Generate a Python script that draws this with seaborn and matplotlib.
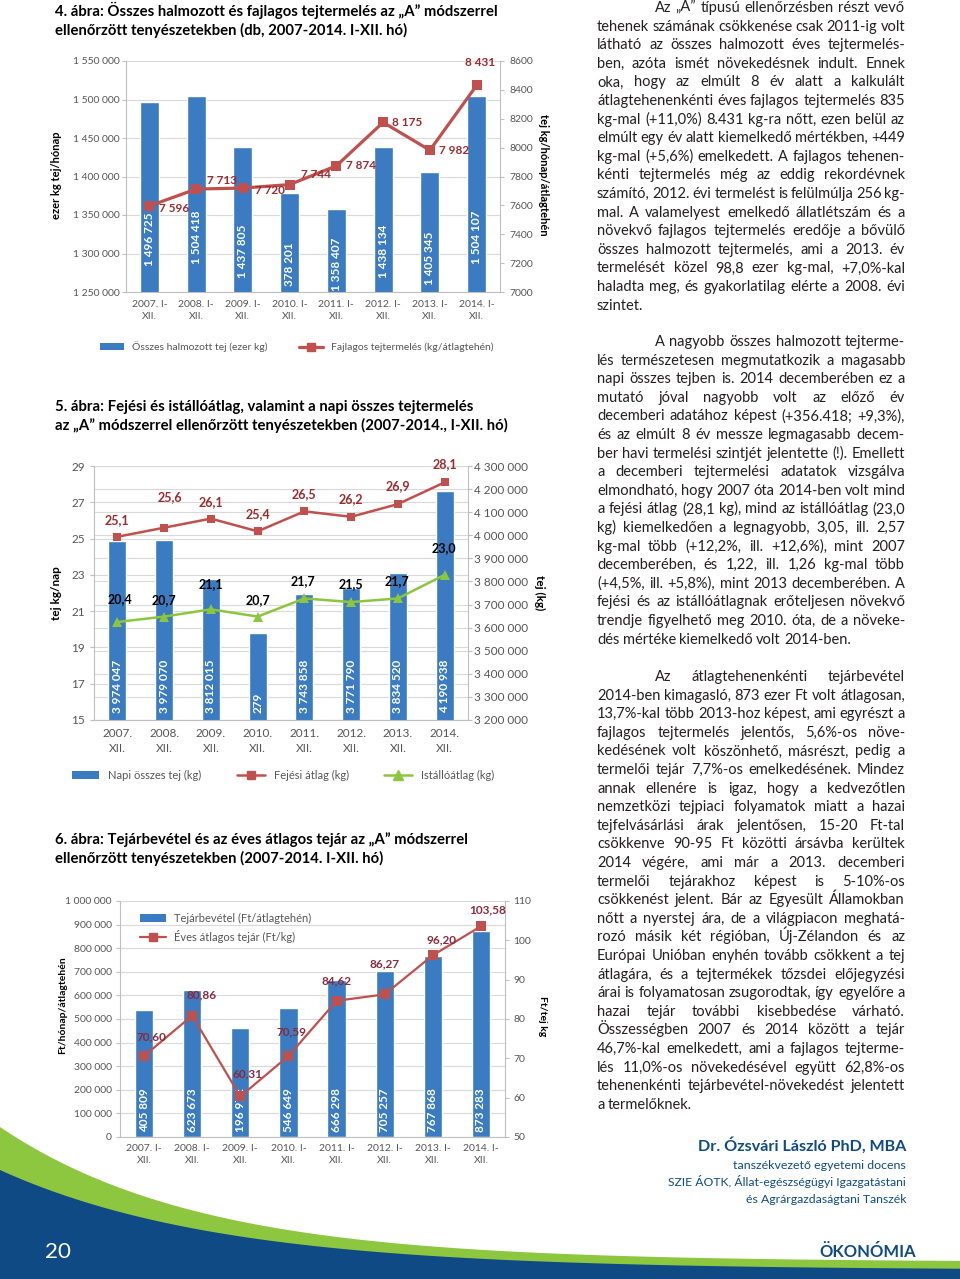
import matplotlib
matplotlib.use("Agg")
import numpy as np
import matplotlib.pyplot as plt
import seaborn as sns
from matplotlib.patches import Patch
from matplotlib.lines import Line2D

# ---- 4. ábra: cumulative and specific milk production ----
periods_a = ["2007. I-\nXII.", "2008. I-\nXII.", "2009. I-\nXII.", "2010. I-\nXII.",
             "2011. I-\nXII.", "2012. I-\nXII.", "2013. I-\nXII.", "2014. I-\nXII."]
total_milk = [1496725, 1504418, 1437805, 1378201, 1358407, 1438134, 1405345, 1504107]
total_milk_text = ["1 496 725", "1 504 418", "1 437 805", "378 201",
                   "1 358 407", "1 438 134", "1 405 345", "1 504 107"]
specific_milk = [7596, 7713, 7720, 7744, 7874, 8175, 7982, 8431]

# ---- 5. ábra: milking / herd average and daily total milk (December) ----
periods_b = ["2007.\nXII.", "2008.\nXII.", "2009.\nXII.", "2010.\nXII.",
             "2011.\nXII.", "2012.\nXII.", "2013.\nXII.", "2014.\nXII."]
daily_milk = [3974047, 3979070, 3812015, 3578279, 3743858, 3771790, 3834520, 4190938]
daily_milk_text = ["3 974 047", "3 979 070", "3 812 015", "279",
                   "3 743 858", "3 771 790", "3 834 520", "4 190 938"]
milking_avg = [25.1, 25.6, 26.1, 25.4, 26.5, 26.2, 26.9, 28.1]
herd_avg = [20.4, 20.7, 21.1, 20.7, 21.7, 21.5, 21.7, 23.0]

# ---- 6. ábra: milk revenue and yearly average milk price ----
revenue = [536415, 623673, 463300, 546649, 666298, 705257, 767868, 873283]
revenue_text = ["405 809", "623 673", "196 972", "546 649",
                "666 298", "705 257", "767 868", "873 283"]
milk_price = [70.60, 80.86, 60.31, 70.59, 84.62, 86.27, 96.20, 103.58]

titles = [
    ["4. ábra: Összes halmozott és fajlagos tejtermelés az \u201eA\u201d módszerrel",
     "ellenőrzött tenyészetekben (db, 2007-2014. I-XII. hó)"],
    ["5. ábra: Fejési és istállóátlag, valamint a napi összes tejtermelés",
     "az \u201eA\u201d módszerrel ellenőrzött tenyészetekben (2007-2014., I-XII. hó)"],
    ["6. ábra: Tejárbevétel és az éves átlagos tejár az \u201eA\u201d módszerrel",
     "ellenőrzött tenyészetekben (2007-2014. I-XII. hó)"],
]

para1 = [
    "Az \u201eA\u201d típusú ellenőrzésben részt vevő",
    "tehenek számának csökkenése csak 2011-ig volt",
    "látható az összes halmozott éves tejtermelés-",
    "ben, azóta ismét növekedésnek indult. Ennek",
    "oka, hogy az elmúlt 8 év alatt a kalkulált",
    "átlagtehenenkénti éves fajlagos tejtermelés 835",
    "kg-mal (+11,0%) 8.431 kg-ra nőtt, ezen belül az",
    "elmúlt egy év alatt kiemelkedő mértékben, +449",
    "kg-mal (+5,6%) emelkedett. A fajlagos tehenen-",
    "kénti tejtermelés még az eddig rekordévnek",
    "számító, 2012. évi termelést is felülmúlja 256 kg-",
    "mal. A valamelyest emelkedő állatlétszám és a",
    "növekvő fajlagos tejtermelés eredője a bővülő",
    "összes halmozott tejtermelés, ami a 2013. év",
    "termelését közel 98,8 ezer kg-mal, +7,0%-kal",
    "haladta meg, és gyakorlatilag elérte a 2008. évi",
    "szintet.",
]
para2 = [
    "A nagyobb összes halmozott tejterme-",
    "lés természetesen megmutatkozik a magasabb",
    "napi összes tejben is. 2014 decemberében ez a",
    "mutató jóval nagyobb volt az előző év",
    "decemberi adatához képest (+356.418; +9,3%),",
    "és az elmúlt 8 év messze legmagasabb decem-",
    "ber havi termelési szintjét jelentette (!). Emellett",
    "a decemberi tejtermelési adatatok vizsgálva",
    "elmondható, hogy 2007 óta 2014-ben volt mind",
    "a fejési átlag (28,1 kg), mind az istállóátlag (23,0",
    "kg) kiemelkedően a legnagyobb, 3,05, ill. 2,57",
    "kg-mal több (+12,2%, ill. +12,6%), mint 2007",
    "decemberében, és 1,22, ill. 1,26 kg-mal több",
    "(+4,5%, ill. +5,8%), mint 2013 decemberében. A",
    "fejési és az istállóátlagnak erőteljesen növekvő",
    "trendje figyelhető meg 2010. óta, de a növeke-",
    "dés mértéke kiemelkedő volt 2014-ben.",
]
para3 = [
    "Az átlagtehenenkénti tejárbevétel",
    "2014-ben kimagasló, 873 ezer Ft volt átlagosan,",
    "13,7%-kal több 2013-hoz képest, ami egyrészt a",
    "fajlagos tejtermelés jelentős, 5,6%-os növe-",
    "kedésének volt köszönhető, másrészt, pedig a",
    "termelői tejár 7,7%-os emelkedésének. Mindez",
    "annak ellenére is igaz, hogy a kedvezőtlen",
    "nemzetközi tejpiaci folyamatok miatt a hazai",
    "tejfelvásárlási árak jelentősen, 15-20 Ft-tal",
    "csökkenve 90-95 Ft közötti ársávba kerültek",
    "2014 végére, ami már a 2013. decemberi",
    "termelői tejárakhoz képest is 5-10%-os",
    "csökkenést jelent. Bár az Egyesült Államokban",
    "nőtt a nyerstej ára, de a világpiacon meghatá-",
    "rozó másik két régióban, Új-Zélandon és az",
    "Európai Unióban enyhén tovább csökkent a tej",
    "átlagára, és a tejtermékek tőzsdei előjegyzési",
    "árai is folyamatosan zsugorodtak, így egyelőre a",
    "hazai tejár további kisebbedése várható.",
    "Összességben 2007 és 2014 között a tejár",
    "46,7%-kal emelkedett, ami a fajlagos tejterme-",
    "lés 11,0%-os növekedésével együtt 62,8%-os",
    "tehenenkénti tejárbevétel-növekedést jelentett",
    "a termelőknek.",
]
author = ["Dr. Ózsvári László PhD, MBA", "tanszékvezető egyetemi docens",
          "SZIE ÁOTK, Állat-egészségügyi Igazgatástani", "és Agrárgazdaságtani Tanszék"]

BLUE = "#3a7bc1"
RED = "#c0504d"
GREEN = "#8cc63f"
LAB_RED = "#9c2b2e"
TICK = "#555555"
AXIS = "#bfbfbf"
GRID = "#d9d9d9"
TXT = "#231f20"
NAVY = "#0f4a85"
SWOOSH = "#8dc63f"

sns.set_style("white")
plt.rcParams["font.family"] = ["Lato", "DejaVu Sans"]

W, H = 960, 1279
fig = plt.figure(figsize=(W / 100, H / 100), dpi=100)
renderer = fig.canvas.get_renderer()


def fx(x):
    return x / W


def fy(y):
    return 1 - y / H


def box(x0, y0, x1, y1):
    return [x0 / W, 1 - y1 / H, (x1 - x0) / W, (y1 - y0) / H]


def spaced(v):
    return f"{v:,.0f}".replace(",", " ")


def comma(v, d):
    return f"{v:.{d}f}".replace(".", ",")


def fit_text(x, y, s, width, ha="left", **kw):
    t = fig.text(fx(x), fy(y), s, ha=ha, va="baseline", fontsize=10, **kw)
    w = t.get_window_extent(renderer).width
    t.set_fontsize(10 * width / w)
    return t


def finish(ax, left, right, fs, lpad, rpad, xpad):
    # ax owns the x axis, left / right carry the two value scales
    for a in {ax, left, right}:
        a.set_facecolor("none")
        for s in a.spines.values():
            s.set_visible(False)
        a.set_xlabel("")
        a.set_ylabel("")
    ax.spines["bottom"].set_visible(True)
    left.spines["left"].set_visible(True)
    right.spines["right"].set_visible(True)
    for s in (ax.spines["bottom"], left.spines["left"], right.spines["right"]):
        s.set_color(AXIS)
        s.set_linewidth(0.8)
    left.tick_params(axis="y", left=True, right=False, labelleft=True, labelright=False,
                     length=3, width=0.8, color=AXIS, labelcolor=TICK, labelsize=fs, pad=lpad)
    right.tick_params(axis="y", left=False, right=True, labelleft=False, labelright=True,
                      length=3, width=0.8, color=AXIS, labelcolor=TICK, labelsize=fs, pad=rpad)
    ax.set_xlim(-0.5, 7.5)
    ax.set_xticks(np.arange(-0.5, 8), minor=True)
    ax.tick_params(axis="x", which="major", length=0, labelsize=fs, labelcolor=TICK, pad=xpad)
    ax.tick_params(axis="x", which="minor", length=4, width=0.8, color=AXIS)
    for t in ax.get_xticklabels():
        t.set_linespacing(1.45)


def point_labels(ax, values, texts, offsets, color, size):
    for i, (v, s, (dx, dy)) in enumerate(zip(values, texts, offsets)):
        ax.annotate(s, (i, v), xytext=(dx, -dy), textcoords="offset pixels",
                    ha="center", va="center", color=color, fontsize=size, fontweight="bold")


def side_label(x, y, s, rot, size):
    fig.text(fx(x), fy(y), s, rotation=rot, ha="center", va="center",
             fontsize=size, fontweight="bold", color="black")


# ---- footer swoosh (behind everything) ----
bg = fig.add_axes([0, 0, 1, 1], zorder=-5)
bg.set_xlim(0, W)
bg.set_ylim(H, 0)
bg.axis("off")
xs = np.linspace(0, W, 400)
bg.fill_between(xs, 1262 - 135 * np.exp(-xs / 200), H, color=SWOOSH, lw=0)
bg.fill_between(xs, 1270 - 100 * np.exp(-xs / 220), H, color=NAVY, lw=0)

# ---- titles ----
t = fit_text(55, 16, titles[0][0], 442, fontweight="bold", color="black")
title_size = t.get_fontsize()
for lines, y in zip(titles, [16, 411, 844]):
    for k, s in enumerate(lines):
        if y == 16 and k == 0:
            continue
        fig.text(fx(55), fy(y + 19 * k), s, ha="left", va="baseline",
                 fontsize=title_size, fontweight="bold", color="black")

# ---- chart 4 ----
ax1 = fig.add_axes(box(126, 61, 500, 292))
sns.barplot(x=periods_a, y=total_milk, ax=ax1, color=BLUE, saturation=1, width=0.41)
lo, hi = 1250000, 1550000
ax1.set_ylim(lo, hi)
ticks = list(range(lo, hi + 1, 50000))
ax1.set_yticks(ticks, [spaced(v) for v in ticks])
ax1.yaxis.grid(True, color=GRID, lw=0.8)
ax1.set_axisbelow(True)
for i, (v, s) in enumerate(zip(total_milk, total_milk_text)):
    yc = max(lo + 0.28 * (min(v, hi) - lo), lo + 0.12 * (hi - lo))
    ax1.text(i, yc, s, rotation=90, ha="center", va="center",
             color="white", fontsize=8.5, fontweight="bold", clip_on=True)
ax1b = ax1.twinx()
sns.lineplot(x=np.arange(len(specific_milk)), y=specific_milk, ax=ax1b, color=RED, lw=2.3,
             marker="s", markersize=7, markeredgewidth=0)
ax1b.set_ylim(7000, 8600)
ax1b.set_yticks(range(7000, 8601, 200))
point_labels(ax1b, specific_milk, [spaced(v) for v in specific_milk],
             [(25, 3), (26, -9), (27, 2), (26, -10), (25, 0), (24, 0), (24, 0), (3, -23)],
             LAB_RED, 8.5)
finish(ax1, ax1, ax1b, 7.5, 1.5, 4, 5.5)
side_label(56, 175, "ezer kg tej/hónap", 90, 8)
side_label(544, 175, "tej kg/hónap/átlagtehén", 270, 8)
fig.legend([Patch(facecolor=BLUE, edgecolor="none"),
            Line2D([], [], color=RED, lw=2.3, marker="s", markersize=6)],
           ["Összes halmozott tej (ezer kg)", "Fajlagos tejtermelés (kg/átlagtehén)"],
           loc="center", bbox_to_anchor=(fx(297), fy(347)), ncol=2, frameon=False,
           fontsize=7.5, handlelength=2.3, columnspacing=3.0, labelcolor=TICK)

# ---- chart 5 ----
ax2 = fig.add_axes(box(94, 466, 468, 720))
sns.barplot(x=periods_b, y=daily_milk, ax=ax2, color=BLUE, saturation=1, width=0.39)
ax2.set_ylim(3200000, 4300000)
ticks = list(range(3200000, 4300001, 100000))
ax2.set_yticks(ticks, [spaced(v) for v in ticks])
ax2.yaxis.grid(True, color=GRID, lw=0.8)
ax2.set_axisbelow(True)
for lv in range(15, 30, 2):
    ax2.axhline(3200000 + (lv - 15) / 14 * 1100000, color=GRID, lw=0.8, zorder=0.5)
for i, s in enumerate(daily_milk_text):
    ax2.annotate(s, (i, 3200000), xytext=(0, 7), textcoords="offset pixels", rotation=90,
                 ha="center", va="bottom", color="white", fontsize=8.5, fontweight="bold")
ax2b = ax2.twinx()
sns.lineplot(x=np.arange(len(milking_avg)), y=milking_avg, ax=ax2b, color=RED, lw=1.8,
             marker="s", markersize=6, markeredgewidth=0)
sns.lineplot(x=np.arange(len(herd_avg)), y=herd_avg, ax=ax2b, color=GREEN, lw=1.8,
             marker="^", markersize=6.5, markeredgewidth=0)
ax2b.set_ylim(15, 29)
ax2b.set_yticks(range(15, 30, 2))
point_labels(ax2b, milking_avg, [comma(v, 1) for v in milking_avg],
             [(0, -17), (6, -31), (0, -17), (0, -17), (0, -17), (0, -18), (0, -18), (0, -18)],
             LAB_RED, 9)
point_labels(ax2b, herd_avg, [comma(v, 1) for v in herd_avg],
             [(3, -23), (0, -17), (0, -25), (0, -17), (-1, -17), (0, -18), (-1, -17), (-1, -27)],
             "black", 9)
finish(ax2, ax2b, ax2, 8.5, 3.5, 1, 6)
side_label(57, 593, "tej kg/nap", 90, 8.5)
side_label(540, 593, "tej (kg)", 270, 8.5)
fig.legend([Patch(facecolor=BLUE, edgecolor="none"),
            Line2D([], [], color=RED, lw=1.8, marker="s", markersize=6),
            Line2D([], [], color=GREEN, lw=1.8, marker="^", markersize=6.5)],
           ["Napi összes tej (kg)", "Fejési átlag (kg)", "Istállóátlag (kg)"],
           loc="center", bbox_to_anchor=(fx(283), fy(775)), ncol=3, frameon=False,
           fontsize=8, handlelength=2.5, columnspacing=3.2, labelcolor=TICK)

# ---- chart 6 ----
ax3 = fig.add_axes(box(120, 901, 505, 1137))
sns.barplot(x=periods_a, y=revenue, ax=ax3, color=BLUE, saturation=1, width=0.38)
ax3.set_ylim(0, 1000000)
ticks = list(range(0, 1000001, 100000))
ax3.set_yticks(ticks, [spaced(v) for v in ticks])
ax3.yaxis.grid(True, color=GRID, lw=0.8)
ax3.set_axisbelow(True)
for i, s in enumerate(revenue_text):
    ax3.annotate(s, (i, 0), xytext=(0, 5), textcoords="offset pixels", rotation=90,
                 ha="center", va="bottom", color="white", fontsize=8.5, fontweight="bold")
ax3b = ax3.twinx()
sns.lineplot(x=np.arange(len(milk_price)), y=milk_price, ax=ax3b, color=RED, lw=1.6,
             marker="s", markersize=6.5, markeredgewidth=0)
ax3b.set_ylim(50, 110)
ax3b.set_yticks(range(50, 111, 10))
point_labels(ax3b, milk_price, [comma(v, 2) for v in milk_price],
             [(7, -19), (9, -21), (7, -23), (3, -24), (0, -20), (0, -30), (9, -15), (7, -16)],
             "#8a2a3c", 8.5)
finish(ax3, ax3, ax3b, 7.5, 3, 3, 5)
side_label(63, 1005, "Ft/hónap/átlagtehén", 90, 7.5)
side_label(542, 1016, "Ft/tej kg", 270, 7.5)
ax3b.legend([Patch(facecolor=BLUE, edgecolor="none"),
             Line2D([], [], color=RED, lw=1.6, marker="s", markersize=6)],
            ["Tejárbevétel (Ft/átlagtehén)", "Éves átlagos tejár (Ft/kg)"],
            loc="upper left", bbox_to_anchor=(fx(130), fy(903)), bbox_transform=fig.transFigure,
            frameon=False, fontsize=8, handlelength=2.3, labelspacing=0.55, labelcolor=TICK)

# ---- right column, justified body text ----
COL_L, COL_R, INDENT, STEP = 597, 905, 655, 18.6


def natural_width(s, size):
    t = fig.text(0, 0, s, fontsize=size)
    w = t.get_window_extent(renderer).width
    t.remove()
    return w


ratios = []
for para in (para1, para2, para3):
    for k, line in enumerate(para[:-1]):
        target = COL_R - (INDENT if k == 0 else COL_L)
        ratios.append(target / natural_width(line, 10))
BODY = min(10 * np.percentile(ratios, 20), 10.5)


def paragraph(lines, y0):
    for k, line in enumerate(lines):
        left = INDENT if k == 0 else COL_L
        words = line.split(" ")
        yb = fy(y0 + k * STEP + 4)
        arts = [fig.text(0, yb, w, fontsize=BODY, color=TXT, ha="left", va="baseline")
                for w in words]
        widths = [a.get_window_extent(renderer).width for a in arts]
        space = BODY * 100 / 72 * 0.22
        if k == len(lines) - 1 or len(words) == 1:
            gap = space
        else:
            gap = (COL_R - left - sum(widths)) / (len(words) - 1)
            if gap < space * 0.7:
                shrink = (COL_R - left - (len(words) - 1) * space * 0.7) / sum(widths)
                for a in arts:
                    a.set_fontsize(BODY * shrink)
                widths = [a.get_window_extent(renderer).width for a in arts]
                gap = (COL_R - left - sum(widths)) / (len(words) - 1)
        x = left
        for a, w in zip(arts, widths):
            a.set_x(fx(x))
            x += w + gap


paragraph(para1, 8)
paragraph(para2, 342)
paragraph(para3, 677)

# ---- author and footer texts ----
fit_text(906, 1151, author[0], 208, ha="right", fontweight="bold", color=NAVY)
fit_text(906, 1169, author[1], 174, ha="right", color=NAVY)
fit_text(906, 1186, author[2], 237, ha="right", color=NAVY)
fit_text(906, 1203, author[3], 161, ha="right", color=NAVY)
fit_text(45, 1258, "20", 26, color="white")
fit_text(916, 1257, "ÖKONÓMIA", 96, ha="right", fontweight="bold", color=NAVY)

fig.savefig("out.png", dpi=100)
